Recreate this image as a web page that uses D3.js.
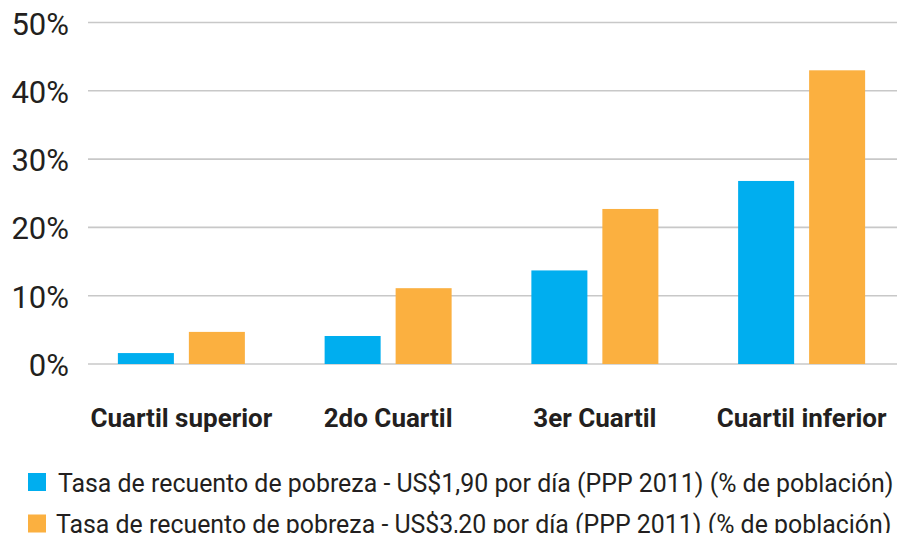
<!DOCTYPE html>
<html>
<head>
    <meta charset="utf-8">
    <style>
        body {
            margin: 0;
            background: white;
            overflow: hidden;
        }
        svg {
            display: block;
            background: white;
        }
        .ytick text {
            font: 31px Roboto;
            fill: #231f20;
        }
        .grid line {
            stroke: #c8c8c8;
            stroke-width: 1.6;
        }
        .cat text {
            font: bold 26px Roboto;
            fill: #231f20;
        }
        .legend text {
            font: 24.9px Roboto;
            fill: #231f20;
        }
    </style>
    <script src="https://d3js.org/d3.v7.min.js"></script>
</head>
<body>
<script>
const categories = ["Cuartil superior", "2do Cuartil", "3er Cuartil", "Cuartil inferior"];
const series = [
    "Tasa de recuento de pobreza - US$1,90 por día (PPP 2011) (% de población)",
    "Tasa de recuento de pobreza - US$3,20 por día (PPP 2011) (% de población)"
];
const values190 = [1.6, 4.1, 13.7, 26.8];
const values320 = [4.7, 11.1, 22.7, 43.0];
const yTicks = [0, 10, 20, 30, 40, 50];
const colors = ["#00aeef", "#fbb040"];

const width = 897, height = 533;

const svg = d3.select("body").append("svg")
    .attr("width", width)
    .attr("height", height);

const y = d3.scaleLinear()
    .domain([0, 50])
    .range([364, 22.5]);

const x0 = d3.scaleBand()
    .domain(categories)
    .range([78, 905]);

const pairW = 127;
const x1 = d3.scaleBand()
    .domain(series)
    .range([(x0.bandwidth() - pairW) / 2, (x0.bandwidth() + pairW) / 2])
    .paddingInner(0.211);

// gridlines
const grid = svg.append("g").attr("class", "grid");
grid.selectAll("line")
    .data(yTicks)
    .join("line")
    .attr("x1", 88)
    .attr("x2", width)
    .attr("y1", d => y(d))
    .attr("y2", d => y(d));

// y labels
svg.append("g").attr("class", "ytick")
    .selectAll("text")
    .data(yTicks)
    .join("text")
    .attr("x", 69)
    .attr("y", d => y(d) + 12)
    .attr("text-anchor", "end")
    .text(d => d + "%");

// bars
const rows = categories.map((c, i) => ({cat: c, vals: [values190[i], values320[i]]}));

svg.append("g")
    .selectAll("g")
    .data(rows)
    .join("g")
    .attr("transform", d => `translate(${x0(d.cat)},0)`)
    .selectAll("rect")
    .data(d => d.vals.map((v, j) => ({s: series[j], v, j})))
    .join("rect")
    .attr("x", d => x1(d.s))
    .attr("width", x1.bandwidth())
    .attr("y", d => y(d.v))
    .attr("height", d => y(0) - y(d.v))
    .attr("fill", d => colors[d.j]);

// category labels
svg.append("g").attr("class", "cat")
    .selectAll("text")
    .data(categories)
    .join("text")
    .attr("x", d => x0(d) + x0.bandwidth() / 2)
    .attr("y", 427)
    .attr("text-anchor", "middle")
    .text(d => d);

// legend
const legend = svg.append("g").attr("class", "legend")
    .selectAll("g")
    .data(series)
    .join("g")
    .attr("transform", (d, i) => `translate(0,${i * 41.5})`);

legend.append("rect")
    .attr("x", 28)
    .attr("y", 473)
    .attr("width", 18)
    .attr("height", 18)
    .attr("fill", (d, i) => colors[i]);

legend.append("text")
    .attr("x", (d, i) => i === 0 ? 58 : 56)
    .attr("y", 491.5)
    .text(d => d);
</script>
</body>
</html>
